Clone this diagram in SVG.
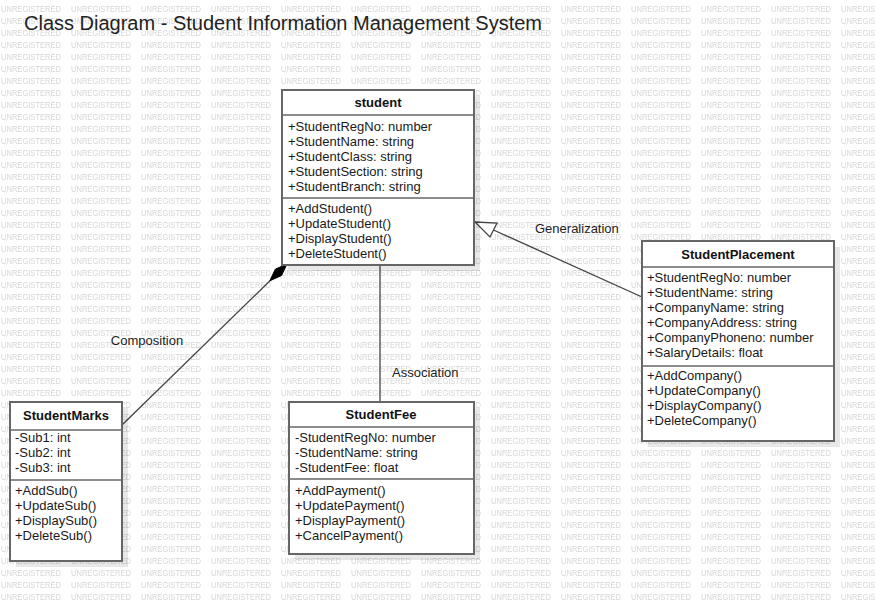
<svg xmlns="http://www.w3.org/2000/svg" width="875" height="602" viewBox="0 0 875 602">
<style>
.wm{font-family:"Liberation Sans",Arial,sans-serif;font-size:9.5px;fill:#d6d6d6}
.box{fill:#fff;stroke:#666;stroke-width:2}
.sh{fill:#000;fill-opacity:0.09}
.div{stroke:#666;stroke-width:1.6}
.t{font-family:"Liberation Sans",Arial,sans-serif;font-size:13px;fill:#1a1a1a}
.h{font-family:"Liberation Sans",Arial,sans-serif;font-size:13px;font-weight:bold;fill:#111;text-anchor:middle}
.lbl{font-family:"Liberation Sans",Arial,sans-serif;font-size:13px;fill:#222}
.ln{stroke:#444;stroke-width:1.3;fill:none}
</style>
<defs>
<pattern id="wmp" patternUnits="userSpaceOnUse" x="0" y="0" width="70" height="12">
<text class="wm" x="1" y="11.6" textLength="60" lengthAdjust="spacingAndGlyphs">UNREGISTERED</text>
</pattern>
</defs>
<rect width="875" height="602" fill="#fff"/>
<rect width="875" height="602" fill="url(#wmp)"/>
<text x="24" y="30" style="font-family:'Liberation Sans',Arial,sans-serif;font-size:20px;fill:#222">Class Diagram - Student Information Management System</text>

<g id="connectors">
<line class="ln" x1="122" y1="425" x2="270" y2="280.8"/>
<polygon points="287,264 281.5,275.6 269.8,280.8 275.3,269.2" fill="#000" stroke="#000" stroke-width="1"/>
<line class="ln" x1="380" y1="265" x2="380" y2="402"/>
<line class="ln" x1="493.5" y1="230" x2="642" y2="297"/>
<polygon points="475,222 497,223 490,237" fill="#fff" stroke="#444" stroke-width="1.3"/>
<text class="lbl" x="147" y="344.5" text-anchor="middle">Composition</text>
<text class="lbl" x="392" y="376.5">Association</text>
<text class="lbl" x="535" y="232.5">Generalization</text>
</g>

<g id="student">
<rect class="sh" x="288" y="96" width="192" height="175"/>
<rect class="box" x="282" y="90" width="192" height="175"/>
<line class="div" x1="282" y1="115" x2="474" y2="115"/>
<line class="div" x1="282" y1="198" x2="474" y2="198"/>
<text class="h" x="378" y="106.5">student</text>
<text class="t" x="288" y="130.5">+StudentRegNo: number</text>
<text class="t" x="288" y="145.5">+StudentName: string</text>
<text class="t" x="288" y="160.5">+StudentClass: string</text>
<text class="t" x="288" y="175.5">+StudentSection: string</text>
<text class="t" x="288" y="190.5">+StudentBranch: string</text>
<text class="t" x="288" y="212.5">+AddStudent()</text>
<text class="t" x="288" y="227.5">+UpdateStudent()</text>
<text class="t" x="288" y="242.5">+DisplayStudent()</text>
<text class="t" x="288" y="257.5">+DeleteStudent()</text>
</g>

<g id="StudentPlacement">
<rect class="sh" x="648" y="247" width="192" height="200"/>
<rect class="box" x="642" y="241" width="192" height="200"/>
<line class="div" x1="642" y1="267" x2="834" y2="267"/>
<line class="div" x1="642" y1="366" x2="834" y2="366"/>
<text class="h" x="738" y="259">StudentPlacement</text>
<text class="t" x="647" y="281.5">+StudentRegNo: number</text>
<text class="t" x="647" y="296.5">+StudentName: string</text>
<text class="t" x="647" y="311.5">+CompanyName: string</text>
<text class="t" x="647" y="326.5">+CompanyAddress: string</text>
<text class="t" x="647" y="341.5">+CompanyPhoneno: number</text>
<text class="t" x="647" y="356.5">+SalaryDetails: float</text>
<text class="t" x="647" y="379.5">+AddCompany()</text>
<text class="t" x="647" y="394.5">+UpdateCompany()</text>
<text class="t" x="647" y="409.5">+DisplayCompany()</text>
<text class="t" x="647" y="424.5">+DeleteCompany()</text>
</g>

<g id="StudentMarks">
<rect class="sh" x="16" y="408" width="112" height="159"/>
<rect class="box" x="10" y="402" width="112" height="159"/>
<line class="div" x1="10" y1="430" x2="122" y2="430"/>
<line class="div" x1="10" y1="480" x2="122" y2="480"/>
<text class="h" x="66" y="419.5">StudentMarks</text>
<text class="t" x="15" y="441.5">-Sub1: int</text>
<text class="t" x="15" y="456.5">-Sub2: int</text>
<text class="t" x="15" y="471.5">-Sub3: int</text>
<text class="t" x="15" y="494.5">+AddSub()</text>
<text class="t" x="15" y="509.5">+UpdateSub()</text>
<text class="t" x="15" y="524.5">+DisplaySub()</text>
<text class="t" x="15" y="539.5">+DeleteSub()</text>
</g>

<g id="StudentFee">
<rect class="sh" x="295" y="408" width="185" height="152"/>
<rect class="box" x="289" y="402" width="185" height="152"/>
<line class="div" x1="289" y1="427" x2="474" y2="427"/>
<line class="div" x1="289" y1="479" x2="474" y2="479"/>
<text class="h" x="381" y="418.5">StudentFee</text>
<text class="t" x="295" y="441.5">-StudentRegNo: number</text>
<text class="t" x="295" y="456.5">-StudentName: string</text>
<text class="t" x="295" y="471.5">-StudentFee: float</text>
<text class="t" x="295" y="494.5">+AddPayment()</text>
<text class="t" x="295" y="509.5">+UpdatePayment()</text>
<text class="t" x="295" y="524.5">+DisplayPayment()</text>
<text class="t" x="295" y="539.5">+CancelPayment()</text>
</g>
</svg>
